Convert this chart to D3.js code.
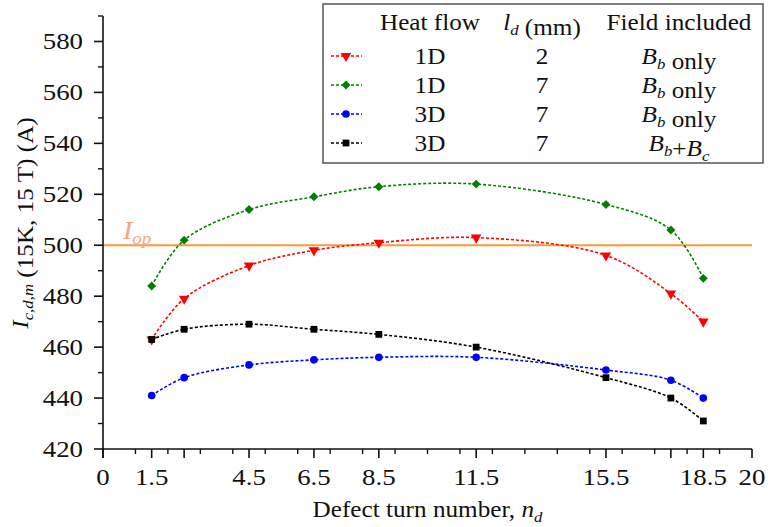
<!DOCTYPE html>
<html>
<head>
<meta charset="utf-8" />
<script src="https://cdn.jsdelivr.net/npm/d3@7"></script>
<style>
  body { margin: 0; background: #fff; }
</style>
</head>
<body>
<div id="chart"></div>
<script>
// data
const defectTurns = [1.5, 2.5, 4.5, 6.5, 8.5, 11.5, 15.5, 17.5, 18.5];
const red1D2mm = [463, 479, 492, 498, 501, 503, 496, 481, 470];
const green1D7mm = [484, 502, 514, 519, 523, 524, 516, 506, 487];
const blue3D7mm = [441, 448, 453, 455, 456, 456, 451, 447, 440];
const black3D7mmBc = [463, 467, 469, 467, 465, 460, 448, 440, 431];
const iop = 500;

const xLabelTicks = [0, 1.5, 4.5, 6.5, 8.5, 11.5, 15.5, 18.5, 20];
const xMajorTicks = [0, 1.5, 2.5, 4.5, 6.5, 8.5, 11.5, 15.5, 17.5, 18.5, 20];
const xMinorTicks = d3.range(1, 20);
const yLabelTicks = [420, 440, 460, 480, 500, 520, 540, 560, 580];
const yMinorTicks = [430, 450, 470, 490, 510, 530, 550, 570, 590];

const legendHeatFlow = ["1D", "1D", "3D", "3D"];
const legendLd = ["2", "7", "7", "7"];
const legendField = ["b", "b", "b", "bc"];

const series = [
  { values: red1D2mm, color: "#ff0000", marker: "triangleDown" },
  { values: green1D7mm, color: "#008000", marker: "diamond" },
  { values: blue3D7mm, color: "#0000ff", marker: "circle" },
  { values: black3D7mmBc, color: "#000000", marker: "square" },
];

const FONT = "'Liberation Serif', 'Times New Roman', serif";
const STRETCH = 1.12;

// set the dimensions and margins of the graph
const W = 768, H = 527;
const margin = { top: 16, right: 16, bottom: 78, left: 103 },
  width = W - margin.left - margin.right,
  height = H - margin.top - margin.bottom;

const svg = d3
  .select("#chart")
  .append("svg")
  .attr("width", W)
  .attr("height", H);

const g = svg.append("g").attr("transform", `translate(${margin.left},${margin.top})`);

const x = d3.scaleLinear().domain([0, 20]).range([0, width]);
const y = d3.scaleLinear().domain([420, 590]).range([height, 0]);

// text helper, the original figure has slightly wide lettering
const label = (parent, tx, ty, size, html, anchor = "middle", rot = 0) =>
  parent
    .append("text")
    .attr("transform", `translate(${tx},${ty}) rotate(${rot}) scale(${STRETCH},1)`)
    .attr("text-anchor", anchor)
    .style("font-family", FONT)
    .attr("fill", "#111")
    .style("font-size", size + "px")
    .html(html);

const sub = (s, size = 15) =>
  `<tspan dy="5" font-size="${size}px" font-style="italic">${s}</tspan><tspan dy="-5"></tspan>`;

// orange operating current line
g.append("line")
  .attr("x1", x(0))
  .attr("x2", x(20))
  .attr("y1", y(iop))
  .attr("y2", y(iop))
  .attr("stroke", "#ff9933")
  .attr("stroke-width", 2);

label(g, 20, y(iop) - 6, 25, '<tspan font-style="italic">I</tspan>' + sub("op", 17), "start")
  .attr("fill", "#f7a47c");

// markers
const symbolFor = {
  triangleDown: d3.symbol().type(d3.symbolTriangle).size(48),
  diamond: d3.symbol().type(d3.symbolSquare).size(40),
  circle: d3.symbol().type(d3.symbolCircle).size(46),
  square: d3.symbol().type(d3.symbolSquare).size(46),
};
const rotateFor = { triangleDown: 180, diamond: 45, circle: 0, square: 0 };

const line = d3
  .line()
  .x((d, i) => x(defectTurns[i]))
  .y((d) => y(d))
  .curve(d3.curveCatmullRom.alpha(0.5));

series.forEach((s) => {
  g.append("path")
    .attr("d", line(s.values))
    .attr("fill", "none")
    .attr("stroke", s.color)
    .attr("stroke-width", 1.6)
    .attr("stroke-dasharray", "3,2");
  s.values.forEach((v, i) => {
    g.append("path")
      .attr("d", symbolFor[s.marker]())
      .attr("fill", s.color)
      .attr(
        "transform",
        `translate(${x(defectTurns[i])},${y(v)}) rotate(${rotateFor[s.marker]})`
      );
  });
});

// axes
const xAxis = g.append("g").attr("transform", `translate(0,${height})`);
xAxis
  .append("line")
  .attr("x1", 0)
  .attr("x2", width)
  .attr("stroke", "#111")
  .attr("stroke-width", 1.6);
xMajorTicks.forEach((t) => {
  xAxis.append("line").attr("x1", x(t)).attr("x2", x(t)).attr("y1", 0).attr("y2", 9)
    .attr("stroke", "#111").attr("stroke-width", 1.6);
});
xMinorTicks.forEach((t) => {
  xAxis.append("line").attr("x1", x(t)).attr("x2", x(t)).attr("y1", 0).attr("y2", 5)
    .attr("stroke", "#111").attr("stroke-width", 1.4);
});
xLabelTicks.forEach((t) => {
  label(xAxis, x(t), 36, 24, t);
});

const yAxis = g.append("g");
yAxis
  .append("line")
  .attr("y1", y(590))
  .attr("y2", height + 9)
  .attr("stroke", "#111")
  .attr("stroke-width", 1.6);
yLabelTicks.forEach((t) => {
  yAxis.append("line").attr("x1", -9).attr("x2", 0).attr("y1", y(t)).attr("y2", y(t))
    .attr("stroke", "#111").attr("stroke-width", 1.6);
  label(yAxis, -20, y(t) + 8, 24, t, "end");
});
yMinorTicks.forEach((t) => {
  yAxis.append("line").attr("x1", -5).attr("x2", 0).attr("y1", y(t)).attr("y2", y(t))
    .attr("stroke", "#111").attr("stroke-width", 1.4);
});

// axis titles
label(svg, margin.left + x(10), 517, 22.5,
  'Defect turn number, <tspan font-style="italic">n</tspan>' + sub("d"));

label(svg, 28, 223, 22.5,
  '<tspan font-style="italic">I</tspan>' + sub("c,d,m") + " (15K, 15 T) (A)", "middle", -90);

// legend
const legend = svg.append("g");
legend.append("rect")
  .attr("x", 323)
  .attr("y", 4)
  .attr("width", 440)
  .attr("height", 159)
  .attr("fill", "#fff")
  .attr("stroke", "#555")
  .attr("stroke-width", 1.5);

const colHeat = 430, colLd = 542, colField = 679;
const headerY = 30;
label(legend, colHeat, headerY, 22.5, "Heat flow");
label(legend, colLd, headerY, 22.5, '<tspan font-style="italic">l</tspan>' + sub("d") + " (mm)");
label(legend, colField, headerY, 22.5, "Field included");

series.forEach((s, i) => {
  const ry = 56 + i * 29;
  legend.append("line")
    .attr("x1", 331).attr("x2", 362).attr("y1", ry).attr("y2", ry)
    .attr("stroke", s.color).attr("stroke-width", 1.6).attr("stroke-dasharray", "3,2");
  legend.append("path")
    .attr("d", symbolFor[s.marker]())
    .attr("fill", s.color)
    .attr("transform", `translate(346,${ry}) rotate(${rotateFor[s.marker]})`);
  label(legend, colHeat, ry + 8, 22.5, legendHeatFlow[i]);
  label(legend, colLd, ry + 8, 22.5, legendLd[i]);
  const fieldHtml = legendField[i] === "b"
    ? '<tspan font-style="italic">B</tspan>' + sub("b") + " only"
    : '<tspan font-style="italic">B</tspan>' + sub("b") + '+<tspan font-style="italic">B</tspan>' + sub("c");
  label(legend, colField, ry + 8, 22.5, fieldHtml);
});
</script>
</body>
</html>
